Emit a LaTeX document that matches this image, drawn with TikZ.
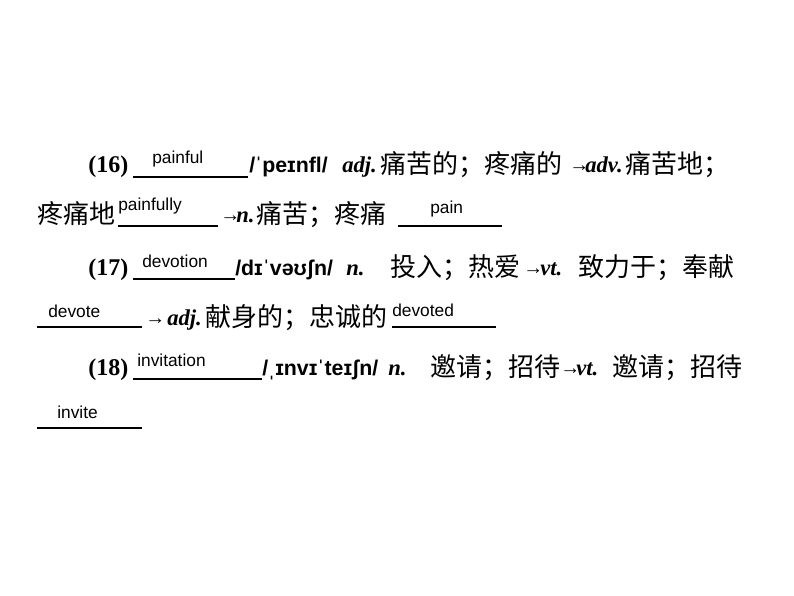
\documentclass[tikz,border=0pt]{standalone}
\usepackage{fontspec}
\setmainfont{Liberation Serif}
\newfontfamily\cjk{Noto Sans CJK SC}
\newfontfamily\ans{Liberation Sans}
\begin{document}
\begin{tikzpicture}[x=0.75pt,y=-0.75pt,
  t/.style={anchor=base west,inner sep=0pt,font=\fontsize{15}{20}\selectfont},
  zh/.style={t,font=\fontsize{19.5}{22}\cjk\selectfont},
  num/.style={t,font=\fontsize{18}{20}\selectfont\bfseries},
  it/.style={t,font=\fontsize{17}{20}\selectfont\bfseries\itshape},
  ph/.style={t,font=\fontsize{16}{20}\ans\bfseries\selectfont},
  aw/.style={t,font=\fontsize{13}{16}\ans\selectfont},
  ul/.style={line width=1.6pt}]
\useasboundingbox (0,0) rectangle (794,596);
% line 1
\node[num] (n16) at (88,172) {(16)};
\draw[ul] (133,177) -- (248,177);
\node[aw] (a1) at (152,163) {painful};
\node[ph] (p1) at (249,172) {/ˈpeɪnfl/};
\node[it] (adj1) at (342,172) {adj.};
\node[zh] (z1) at (380,173) {痛苦的；疼痛的};
\node[t] (r1) at (569,171) {→};
\node[it] (adv1) at (585,172) {adv.};
\node[zh] (z2) at (625,173) {痛苦地；};
% line 2
\node[zh] (z3) at (37,223) {疼痛地};
\draw[ul] (118,226) -- (218,226);
\node[aw] (a2) at (118,210) {painfully};
\node[t] (r2) at (220,221) {→};
\node[it] (nn1) at (236,222) {n.};
\node[zh] (z4) at (256,223) {痛苦；疼痛};
\draw[ul] (398,226) -- (502,226);
\node[aw] (a3) at (430,213) {pain};
% line 3
\node[num] (n17) at (88,275) {(17)};
\draw[ul] (133,279) -- (235,279);
\node[aw] (a4) at (142,267) {devotion};
\node[ph] (p2) at (235,275) {/dɪˈvəʊʃn/};
\node[it] (nn2) at (346,275) {n.};
\node[zh] (z5) at (390,276) {投入；热爱};
\node[t] (r3) at (523,274) {→};
\node[it] (vt1) at (540,275) {vt.};
\node[zh] (z6) at (578,276) {致力于；奉献};
% line 4
\draw[ul] (37,327) -- (142,327);
\node[aw] (a5) at (48,317) {devote};
\node[t] (r4) at (145,324) {→};
\node[it] (adj2) at (167,325) {adj.};
\node[zh] (z7) at (205,326) {献身的；忠诚的};
\draw[ul] (392,327) -- (496,327);
\node[aw] (a6) at (392,316) {devoted};
% line 5
\node[num] (n18) at (88,375) {(18)};
\draw[ul] (133,379) -- (262,379);
\node[aw] (a7) at (137,366) {invitation};
\node[ph] (p3) at (262,375) {/ˌɪnvɪˈteɪʃn/};
\node[it] (nn3) at (388,375) {n.};
\node[zh] (z8) at (430,376) {邀请；招待};
\node[t] (r5) at (560,374) {→};
\node[it] (vt2) at (576,375) {vt.};
\node[zh] (z9) at (612,376) {邀请；招待};
% line 6
\draw[ul] (37,428) -- (142,428);
\node[aw] (a8) at (57,418) {invite};
\end{tikzpicture}
\end{document}
